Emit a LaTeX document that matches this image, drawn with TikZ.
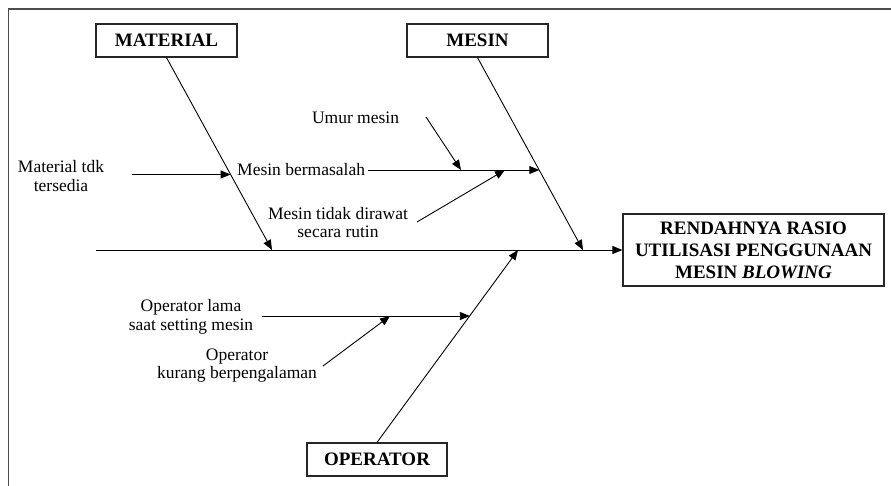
\documentclass[tikz,border=0pt]{standalone}
\usepackage{fontspec}
\setmainfont{Liberation Serif}
\usetikzlibrary{arrows.meta}
\tikzset{
  cause/.style={draw=black!85, line width=1.2pt, fill=white, inner sep=0pt,
    font=\fontsize{19}{22}\selectfont\bfseries, align=center},
  lbl/.style={inner sep=1pt, align=center, font=\fontsize{17.5}{18.5}\selectfont},
  bone/.style={line width=0.9pt, -{Triangle[length=10pt,width=8pt]}},
  twig/.style={line width=0.9pt},
  frame/.style={line width=1.2pt, draw=black!70}
}
\begin{document}
\begin{tikzpicture}[x=1pt, y=-1pt]
\useasboundingbox (0,0) rectangle (891,486);
% outer frame (top and left edges)
\draw[frame] (8.5,486) -- (8.5,9) -- (891,9);

% category boxes and effect box
\node[cause, minimum width=141pt, minimum height=33pt] (mat) at (166.5,40.5) {MATERIAL};
\node[cause, minimum width=141pt, minimum height=33pt] (mes) at (477.5,40.5) {MESIN};
\node[cause, minimum width=140pt, minimum height=33pt] (opr) at (377,459.5) {OPERATOR};
\node[cause, minimum width=261pt, minimum height=72pt] (eff) at (753.5,250)
  {RENDAHNYA RASIO\\UTILISASI PENGGUNAAN\\MESIN \textit{BLOWING}};

% spine and main bones
\coordinate (tail) at (96,250);
\coordinate (matend) at (272,250);
\coordinate (mesend) at (583,250);
\coordinate (oprend) at (518,250);
\draw[bone] (tail) -- (eff.west);
\draw[bone] (mat.south) -- (matend);
\draw[bone] (mes.south) -- (mesend);
\draw[bone] (opr.north) -- (oprend);

% points on the bones
\coordinate (matp) at (230.6,174.5);
\coordinate (mesp) at (539.3,170);
\coordinate (oprp) at (469.8,316);

% material causes
\node[lbl] (mtdk) at (61,176) {Material tdk\\tersedia};
\coordinate (mtdkA) at (132,174.5);
\draw[bone] (mtdkA) -- (matp);

% machine causes
\node[lbl, anchor=west] (mbm) at (236,170) {Mesin bermasalah};
\draw[bone] ([xshift=2pt]mbm.east) -- (mesp);
\node[lbl] (umur) at (355.5,118) {Umur mesin};
\coordinate (umurA) at (426,117);
\coordinate (umurB) at (461,170);
\draw[bone] (umurA) -- (umurB);
\node[lbl] (rawat) at (338,222.5) {Mesin tidak dirawat\\secara rutin};
\coordinate (rawatA) at (417,222);
\coordinate (rawatB) at (505,170);
\draw[bone] (rawatA) -- (rawatB);

% operator causes
\node[lbl] (olama) at (191,317) {Operator lama\\saat setting mesin};
\coordinate (olamaA) at (262,316);
\draw[bone] (olamaA) -- (oprp);
\node[lbl] (okur) at (237,365.5) {Operator\\kurang berpengalaman};
\coordinate (okurA) at (323,366);
\coordinate (okurB) at (390,316);
\draw[bone] (okurA) -- (okurB);
\end{tikzpicture}
\end{document}
